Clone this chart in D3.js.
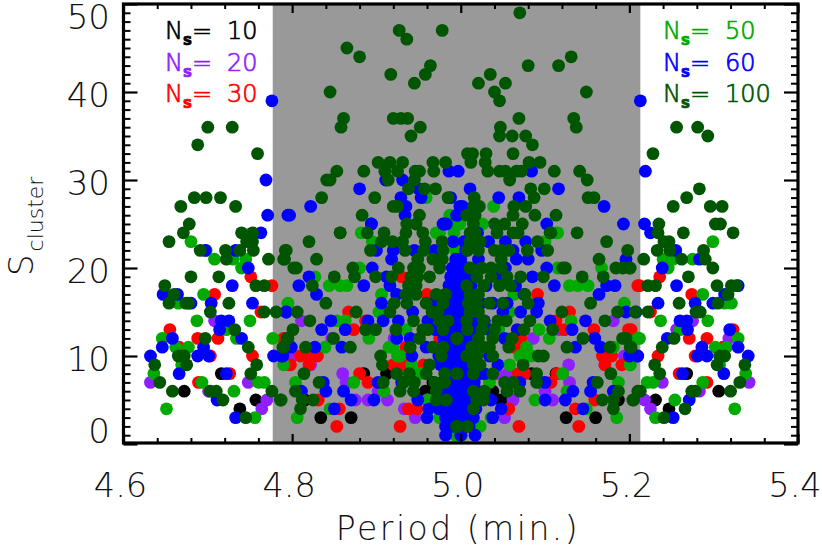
<!DOCTYPE html>
<html>
<head>
<meta charset="utf-8">
<script src="https://cdn.jsdelivr.net/npm/d3@7/dist/d3.min.js"></script>
<style>
html, body { margin: 0; padding: 0; background: #fff; overflow: hidden; }
text { font-family: "DejaVu Sans", sans-serif; }
.tick-label { font-weight: 200; fill: #111; }
.legend { font-weight: 200; stroke-width: 0.7; }
</style>
</head>
<body>
<div id="chart"></div>
<script>
// [period, S_cluster]
var ns10 = [[4.716,8],[4.672,6],[4.757,5],[4.738,4],[5.268,8],[5.306,6],[5.231,5],[5.247,4],
    [4.885,8],[4.912,8],[4.815,5],[4.834,3],[4.870,3],[4.958,6],[4.967,7],[5.084,8],[5.113,8],[5.095,7],[5.048,5],[5.038,6],[5.125,3],[5.160,3],[5.187,5]];
var ns20 = [[4.708,14],[4.632,7],[4.748,7],[4.701,6],[4.770,5],[4.764,4],[5.275,14],[5.256,13],[5.318,12],[5.239,7],[5.342,7],[5.283,6],[5.218,5],[5.225,4],
    [4.811,14],[4.847,12],[4.860,8],[4.864,7],[4.875,5],[4.902,6],[4.890,5],[4.913,5],[4.921,12],[4.933,4],[4.946,3],[4.960,5],[4.800,10],[4.822,9],
    [5.181,14],[5.086,12],[5.128,9],[5.194,10],[5.171,9],[5.056,8],[5.129,7],[5.100,6],[5.109,5],[5.062,5],[5.052,3],[5.117,13],[5.042,8]];
var ns30 = [[4.708,17],[4.751,19],[4.776,18],[4.763,15],[4.655,13],[4.688,12],[4.712,12],[4.666,11],[4.753,10],[4.703,10],[4.726,8],[4.689,7],[4.790,12],[4.796,9],
    [5.236,19],[5.212,18],[5.274,17],[5.225,15],[5.202,13],[5.271,12],[5.292,12],[5.323,13],[5.234,10],[5.259,8],[5.292,7],[5.311,11],[5.278,10],
    [4.867,15],[4.887,14],[4.873,13],[4.794,12],[4.810,10],[4.820,10],[4.830,10],[4.820,9],[4.798,9],[4.880,8],[4.890,7],[4.831,5],[4.856,4],[4.853,2],[4.928,2],[4.938,4],[4.948,4],[4.920,9],[4.933,9],[4.960,17],[4.930,19],[4.935,11],[4.956,9],[4.975,12],[4.982,5],
    [5.091,17],[5.210,18],[5.129,15],[5.113,14],[5.123,13],[5.158,13],[5.199,13],[5.071,12],[5.064,11],[5.168,10],[5.179,10],[5.171,9],[5.191,9],[5.076,8],[5.068,8],[5.114,8],[5.107,7],[5.159,5],[5.136,4],[5.057,4],[5.069,2],[5.140,2]];
var ns50 = [[4.680,23],[4.698,22],[4.708,21],[4.730,21],[4.745,21],[4.740,20],[4.695,17],[4.665,16],[4.687,14],[4.750,14],[4.646,12],[4.662,11],[4.677,11],[4.777,12],[4.734,12],[4.722,13],[4.790,9],[4.795,16],[4.669,9],[4.636,8],[4.693,7],[4.760,7],[4.767,7],[4.731,6],[4.651,4],[4.756,3],
    [4.882,24],[4.895,23],[4.975,24],[4.880,20],[4.827,19],[4.844,18],[4.857,18],[4.865,18],[4.906,17],[4.903,15],[4.853,14],[4.863,14],[4.935,13],[4.891,12],[4.839,11],[4.920,11],[4.928,10],[4.942,9],[4.804,7],[4.873,7],[4.909,6],[4.845,4],[4.806,3],[4.951,8],[4.961,5],[4.975,3],[4.994,1],[4.959,28],[4.987,26],[4.993,25],[4.971,24],[4.994,22],[4.925,10],[4.915,11],
    [5.039,27],[5.026,25],[4.999,25],[5.113,24],[5.115,24],[5.100,23],[5.167,20],[5.115,20],[5.129,18],[5.139,18],[5.151,18],[5.194,16],[5.131,14],[5.093,13],[5.105,12],[5.078,11],[5.070,10],[5.084,10],[5.058,9],[5.121,8],[5.098,7],[5.187,7],[5.088,5],[5.126,6],[5.185,3],[5.210,12],[5.149,4],[5.036,3],[5.023,2],[5.001,1],[5.201,9],[5.034,7],[5.181,11],[4.992,24],[5.004,23],[4.999,19],[5.003,20],[5.063,17],[5.058,15],[5.045,13],
    [5.299,23],[5.240,21],[5.252,21],[5.275,21],[5.246,20],[5.287,17],[5.313,16],[5.321,16],[5.237,14],[5.293,14],[5.260,13],[5.212,12],[5.329,12],[5.302,11],[5.315,11],[5.201,9],[5.307,9],[5.338,8],[5.221,7],[5.228,7],[5.287,7],[5.254,5],[5.325,4],[5.231,3]];
var ns60 = [[4.776,39],[4.769,30],[4.771,26],[4.795,26],[4.763,24],[4.697,22],[4.733,22],[4.748,20],[4.729,18],[4.647,17],[4.664,17],[4.704,16],[4.753,16],[4.680,16],[4.793,15],[4.716,14],[4.725,14],[4.714,13],[4.658,12],[4.740,12],[4.646,11],[4.695,11],[4.632,10],[4.688,10],[4.701,10],[4.778,10],[4.789,10],[4.666,8],[4.722,8],[4.711,5],[4.733,3],
    [4.797,26],[4.822,27],[4.880,29],[4.894,25],[4.929,28],[4.931,30],[4.911,30],[4.986,31],[4.950,29],[4.953,28],[4.935,27],[4.934,26],[4.988,28],[4.979,25],[4.983,25],[4.995,26],[4.999,27],[4.997,31],
    [5.011,29],[5.045,28],[5.069,28],[5.116,29],[5.084,31],[5.170,27],[5.002,27],[4.996,26],[5.193,25],[5.102,25],[5.213,39],[5.219,31],[5.218,25],[5.225,24],[5.255,22],[5.283,21],[5.239,20],[5.256,18],[5.329,18],[5.278,16],[5.313,17],[5.299,16],[5.234,16],[5.260,14],[5.268,14],[5.269,13],[5.319,13],[5.245,12],[5.286,11],[5.329,11],[5.281,10],[5.292,10],[5.341,10],[5.210,10],[5.312,8],[5.263,8],[5.271,5],[5.252,3],
    [4.894,25],[4.980,25],[4.991,23],[4.900,22],[4.920,22],[4.945,22],[4.918,21],[4.895,20],[4.969,22],[4.820,19],[4.912,19],[4.808,18],[4.885,18],[4.916,18],[4.829,17],[4.924,17],[4.906,16],[4.943,15],[4.793,15],[4.846,14],[4.890,14],[4.908,14],[4.926,14],[4.961,14],[4.835,13],[4.863,13],[4.924,12],[4.940,12],[4.799,11],[4.827,11],[4.859,11],[4.787,10],[4.942,10],[4.959,11],[4.837,7],[4.902,7],[4.811,6],[4.840,6],[4.861,6],[4.870,5],[4.897,5],[4.949,5],[4.850,4],[4.962,4],[4.960,3],[4.930,7],[4.974,4],
    [5.102,20],[5.111,18],[5.080,21],[5.066,21],[5.096,22],[5.173,18],[5.183,18],[5.164,17],[5.196,21],[5.196,15],[5.208,15],[5.071,15],[5.090,15],[5.085,19],[5.092,16],[5.106,14],[5.148,14],[5.132,13],[5.159,12],[5.136,11],[5.166,11],[5.200,10],[5.209,10],[5.100,7],[5.154,6],[5.133,6],[5.124,5],[5.100,5],[5.157,7],[5.181,6],[5.145,4],[5.048,4],[5.038,3],[5.017,1],[5.070,7],[5.036,5],
    [5.004,23],[5.020,24],[5.053,23],[5.062,22],[5.033,23],[5.077,23],[5.000,21],[5.021,21],[5.043,19],[5.053,20],[5.065,18],[5.075,17],[5.038,16],[5.055,16],[5.050,15],[5.034,13],[5.067,13],[5.052,12],[5.044,9],[5.034,10],[5.028,8],
    [4.982,1],[5.000,1],[4.982,2],[4.990,2],[4.996,2],[5.003,2],[5.010,2],[4.982,3],[4.988,3],[4.995,3],[5.002,3],[5.008,3],[5.015,3],[4.978,4],[4.984,4],[4.990,4],[4.998,4],[5.006,4],[5.012,4],[5.018,4],[4.976,5],[4.986,5],[4.994,5],[5.002,5],[5.010,5],[5.017,5],[4.980,6],[4.988,6],[4.996,6],[5.004,6],[5.012,6],[5.020,6],[4.978,7],[4.986,7],[4.994,7],[5.000,7],[5.008,7],[5.016,7],[4.982,8],[4.990,8],[4.998,8],[5.006,8],[5.014,8],[5.022,8],[4.976,9],[4.984,9],[4.992,9],[5.000,9],[5.009,9],[5.018,9],[4.974,10],[4.982,10],[4.990,10],[4.998,10],[5.006,10],[5.016,10],[4.978,11],[4.986,11],[4.994,11],[5.002,11],[5.012,11],[5.022,11],[4.980,12],[4.988,12],[4.996,12],[5.004,12],[5.014,12],[4.976,13],[4.986,13],[4.994,13],[5.002,13],[5.010,13],[5.020,13],[4.980,14],[4.990,14],[4.998,14],[5.006,14],[5.016,14],[4.984,15],[4.992,15],[5.000,15],[5.008,15],[4.978,16],[4.988,16],[4.996,16],[5.004,16],[5.014,16],[4.982,17],[4.990,17],[4.998,17],[5.010,17],[4.986,18],[4.994,18],[5.002,18],[5.012,18],[4.988,19],[4.996,19],[5.006,19],[4.990,20],[4.998,20],[5.008,20],[4.994,21],[5.006,22],[5.024,16],[5.028,14],[5.030,18],[4.968,16],[4.970,13]];
var ns100 = [[4.678,25],[4.671,24],[4.654,23],[4.691,22],[4.721,22],[4.738,22],[4.754,22],[4.740,24],[4.753,24],[4.746,23],[4.753,23],[4.722,21],[4.772,21],[4.790,21],[4.792,22],[4.680,19],[4.713,19],[4.649,18],[4.757,18],[4.767,18],[4.660,17],[4.654,16],[4.674,16],[4.677,16],[4.725,16],[4.703,15],[4.767,15],[4.781,15],[4.732,13],[4.697,12],[4.748,11],[4.665,10],[4.672,10],[4.637,9],[4.675,9],[4.758,9],[4.751,8],[4.643,7],[4.658,6],[4.703,6],[4.710,6],[4.776,6],[4.718,5],[4.786,5],[4.745,3],[4.789,11],[4.795,12],
    [4.700,36],[4.729,36],[4.688,34],[4.759,33],[4.668,27],[4.684,28],[4.698,28],[4.715,28],[4.733,27],
    [5.235,25],[5.302,25],[5.308,25],[5.234,24],[5.264,24],[5.323,24],[5.241,23],[5.247,23],[5.233,22],[5.248,22],[5.288,22],[5.262,21],[5.290,21],[5.217,21],[5.299,20],[5.201,20],[5.270,19],[5.304,18],[5.321,18],[5.327,18],[5.222,18],[5.231,18],[5.317,17],[5.259,16],[5.305,16],[5.279,15],[5.284,15],[5.207,15],[5.222,15],[5.253,12],[5.239,11],[5.202,11],[5.307,10],[5.313,10],[5.230,9],[5.304,9],[5.337,9],[5.236,8],[5.331,7],[5.274,6],[5.278,6],[5.320,6],[5.213,6],[5.205,5],[5.266,4],[5.241,3],
    [5.256,36],[5.281,36],[5.293,35],[5.228,33],[5.283,29],[5.268,28],[5.252,27],[5.296,27],[5.310,27],
    [4.927,47],[4.936,46],[4.978,47],[4.865,45],[4.880,44],[4.964,43],[4.958,42],[4.917,42],[4.945,41],[4.845,40],[4.861,37],[4.858,36],[4.920,37],[4.929,37],[4.937,37],[4.952,36],[4.941,35],[4.902,32],[4.916,32],[4.931,32],[4.967,32],[4.982,32],[4.853,31],[4.885,31],[4.910,31],[4.925,31],[4.946,31],[4.951,31],[4.968,31],[4.841,30],[4.845,30],[4.914,30],[4.945,30],[4.938,29],[4.957,29],[4.970,29],[4.835,28],[4.898,28],[4.985,28],[4.920,27],[4.925,27],[4.883,26],[4.951,26],[4.936,25],[4.947,25],[4.857,24],[4.889,24],[4.909,24],[4.955,24],
    [5.070,49],[5.131,44],[5.080,43],[5.116,43],[5.035,42],[5.021,41],[5.053,41],[5.040,40],[5.149,40],[5.046,39],[5.069,37],[5.134,37],[5.047,36],[5.137,36],[5.046,35],[5.061,35],[5.077,35],[5.085,34],[5.008,33],[5.014,33],[5.030,33],[5.062,33],[5.012,32],[5.029,32],[5.081,32],[5.094,32],[5.032,31],[5.046,31],[5.053,31],[5.066,31],[5.072,31],[5.111,31],[5.141,31],[5.058,30],[5.150,30],[5.083,29],[5.099,29],[5.016,28],[5.087,28],[5.151,28],[5.158,28],[5.015,27],[5.022,27],[5.063,27],[5.077,27],[5.007,26],[5.017,26],[5.062,26],[5.088,26],[5.113,26],[5.015,25],[5.040,25],[5.052,25],[5.073,25],[5.106,24],[5.138,24],
    [5.173,23],[5.198,22],[5.164,21],[5.091,23],[5.103,22],[5.079,22],[5.107,24],[5.121,20],[5.124,20],[5.184,20],[5.192,20],[5.200,20],[5.144,19],[5.169,19],[5.098,19],[5.071,19],[5.154,16],[5.120,15],[5.186,15],[5.171,14],[5.082,14],[5.109,13],[5.075,13],[5.145,12],[5.192,12],[5.196,12],[5.126,11],[5.177,11],[5.201,11],[5.092,10],[5.098,10],[5.074,9],[5.038,8],[5.090,8],[5.090,7],[5.178,8],[5.162,7],[5.062,7],[5.052,7],[5.187,6],[5.210,6],[5.055,6],[5.070,6],[5.168,5],[5.181,5],[5.204,5],[5.181,4],[4.996,8],[5.015,8],[5.015,4],[4.996,2],[5.008,2],
    [4.857,24],[4.935,24],[4.820,23],[4.906,23],[4.919,23],[4.931,23],[4.958,23],[4.978,23],[4.793,22],[4.893,22],[4.934,22],[4.956,22],[4.979,22],[4.791,21],[4.829,21],[4.949,21],[4.967,21],[4.978,21],[4.802,20],[4.805,20],[4.872,20],[4.926,20],[4.944,20],[4.951,20],[4.975,20],[4.850,19],[4.874,19],[4.899,19],[4.918,19],[4.941,19],[4.949,19],[4.963,19],[4.824,18],[4.938,18],[4.947,18],[4.935,17],[4.947,17],[4.971,17],[4.982,17],[4.840,16],[4.921,16],[4.936,16],[4.959,16],[4.979,16],[4.806,15],[4.876,15],[4.916,15],[4.966,15],[4.973,15],[4.821,14],[4.944,14],[4.975,14],[4.985,14],[4.801,13],[4.887,13],[4.899,13],[4.923,13],[4.955,13],[4.961,13],[4.979,13],[4.794,12],[4.849,12],[4.951,12],[4.995,12],[4.790,11],[4.816,11],[4.869,11],[4.940,11],[4.967,11],[4.979,11],[4.905,10],[4.977,10],[4.907,9],[4.963,9],[4.814,8],[4.924,8],[4.939,8],[4.959,8],[4.981,8],[4.995,8],[4.832,7],[4.908,7],[4.932,7],[4.945,7],[4.969,7],[4.981,7],[4.804,6],[4.928,6],[4.944,6],[4.971,6],[4.787,5],[4.812,5],[4.825,5],[4.971,5],[4.983,5],[4.810,4],[4.995,2],
    [5.011,24],[5.017,24],[5.043,24],[5.062,24],[5.068,24],[5.011,23],[5.023,23],[5.008,22],[5.021,22],[5.040,22],[5.048,22],[5.057,22],[5.048,21],[5.011,20],[5.025,20],[5.036,20],[5.048,20],[5.019,19],[5.036,19],[5.055,19],[5.007,18],[5.027,18],[5.046,18],[5.059,18],[5.011,17],[5.021,17],[5.076,17],[5.009,16],[5.019,16],[5.034,16],[5.050,16],[5.080,16],[5.011,15],[5.021,15],[5.007,14],[5.027,14],[5.044,14],[5.054,14],[5.008,13],[5.025,13],[5.040,13],[4.996,12],[5.021,12],[5.038,12],[5.061,12],[5.013,11],[5.027,11],[5.034,11],[5.057,11],[5.007,10],[5.019,10],[5.038,10],[5.015,9],[5.023,9],[5.015,6],[5.028,6],[5.019,5],[5.027,5]];

var seriesData = [ns10, ns20, ns30, ns50, ns60, ns100];
var seriesColors = ["#000000", "#8f1fff", "#ff0000", "#00aa00", "#0000ff", "#005500"];
var legendValues = ["10", "20", "30", "50", "60", "100"];

var grayBand = [4.777, 5.213];
var xMajor = [4.6, 4.8, 5.0, 5.2, 5.4];
var xMinor = [4.64, 4.68, 4.72, 4.76, 4.84, 4.88, 4.92, 4.96, 5.04, 5.08, 5.12, 5.16, 5.24, 5.28, 5.32, 5.36];
var yMajor = [0, 10, 20, 30, 40, 50];
var yMinor = d3.range(0, 51).filter(function (d) { return d % 10 !== 0; });

var width = 822;
var height = 548;

var x = d3.scaleLinear().domain([4.6, 5.4]).range([123.5, 798]);
var y = d3.scaleLinear().domain([0, 50]).range([444, 4]);

var svg = d3.select("#chart").append("svg").attr("width", width).attr("height", height).style("display", "block");

svg.append("rect")
    .attr("x", x(grayBand[0]))
    .attr("y", y(50))
    .attr("width", x(grayBand[1]) - x(grayBand[0]))
    .attr("height", y(0) - y(50))
    .attr("fill", "#999999");

seriesData.forEach(function (points, i) {
    svg.append("g").selectAll("circle").data(points).enter().append("circle")
        .attr("cx", function (d) { return x(d[0]); })
        .attr("cy", function (d) { return y(d[1]); })
        .attr("r", 6.4)
        .attr("fill", seriesColors[i]);
});

function drawAxis(axis, tx, ty, strokeWidth) {
    var g = svg.append("g").attr("transform", "translate(" + tx + "," + ty + ")").call(axis);
    g.select(".domain").remove();
    g.selectAll("line").attr("stroke", "#000").attr("stroke-width", strokeWidth);
    g.selectAll("text").remove();
}

// ticks on all four sides, pointing inwards
drawAxis(d3.axisBottom(x).tickValues(xMajor).tickSize(-9).tickFormat(""), 0, y(0) - 1, 2.2);
drawAxis(d3.axisBottom(x).tickValues(xMinor).tickSize(-5).tickFormat(""), 0, y(0) - 1, 2);
drawAxis(d3.axisTop(x).tickValues(xMajor).tickSize(-9).tickFormat(""), 0, y(50), 2.2);
drawAxis(d3.axisTop(x).tickValues(xMinor).tickSize(-5).tickFormat(""), 0, y(50), 2);
drawAxis(d3.axisLeft(y).tickValues(yMajor).tickSize(-14).tickFormat(""), x(4.6), 0, 2.2);
drawAxis(d3.axisLeft(y).tickValues(yMinor).tickSize(-7).tickFormat(""), x(4.6), 0, 2);
drawAxis(d3.axisRight(y).tickValues(yMajor).tickSize(-14).tickFormat(""), x(5.4), 0, 2.2);
drawAxis(d3.axisRight(y).tickValues(yMinor).tickSize(-7).tickFormat(""), x(5.4), 0, 2);

svg.append("rect")
    .attr("x", x(4.6))
    .attr("y", y(50))
    .attr("width", x(5.4) - x(4.6))
    .attr("height", y(0) - y(50) - 1)
    .attr("fill", "none")
    .attr("stroke", "#000")
    .attr("stroke-width", 3.2);

svg.selectAll(".xlab").data(xMajor).enter().append("text")
    .attr("class", "tick-label")
    .attr("x", function (d) { return x(d) - 3; })
    .attr("y", 497)
    .attr("text-anchor", "middle")
    .attr("font-size", 33.5)
    .text(function (d) { return d.toFixed(1); });

// the end labels sit inside the plot height, not centred on their ticks
svg.selectAll(".ylab").data(yMajor).enter().append("text")
    .attr("class", "tick-label")
    .attr("x", 110)
    .attr("y", function (d) { return Math.max(29, Math.min(443, y(d) + 15)); })
    .attr("text-anchor", "end")
    .attr("font-size", 34)
    .text(function (d) { return d; });

svg.append("text")
    .attr("class", "tick-label")
    .attr("x", 458)
    .attr("y", 540)
    .attr("text-anchor", "middle")
    .attr("font-size", 33)
    .attr("letter-spacing", 2.5)
    .text("Period (min.)");

var yTitle = svg.append("text")
    .attr("class", "tick-label")
    .attr("transform", "translate(33,276) rotate(-90)")
    .attr("font-size", 34);
yTitle.append("tspan").text("S");
yTitle.append("tspan").attr("font-size", 22).attr("dx", 3).attr("dy", 10).text("cluster");

// legend columns
var legendX = [165, 165, 165, 663, 663, 663];
var legendY = [39, 71, 102, 39, 71, 102];
legendValues.forEach(function (v, i) {
    var t = svg.append("text")
        .attr("class", "legend")
        .attr("x", legendX[i])
        .attr("y", legendY[i])
        .attr("fill", seriesColors[i])
        .attr("stroke", seriesColors[i])
        .attr("font-size", 24);
    t.append("tspan").text("N");
    t.append("tspan").attr("font-size", 15).attr("font-weight", 700).attr("dy", 6).text("s");
    t.append("tspan").attr("dy", -6).text("=");
    t.append("tspan").attr("x", legendX[i] + 62).text(v);
});
</script>
</body>
</html>
